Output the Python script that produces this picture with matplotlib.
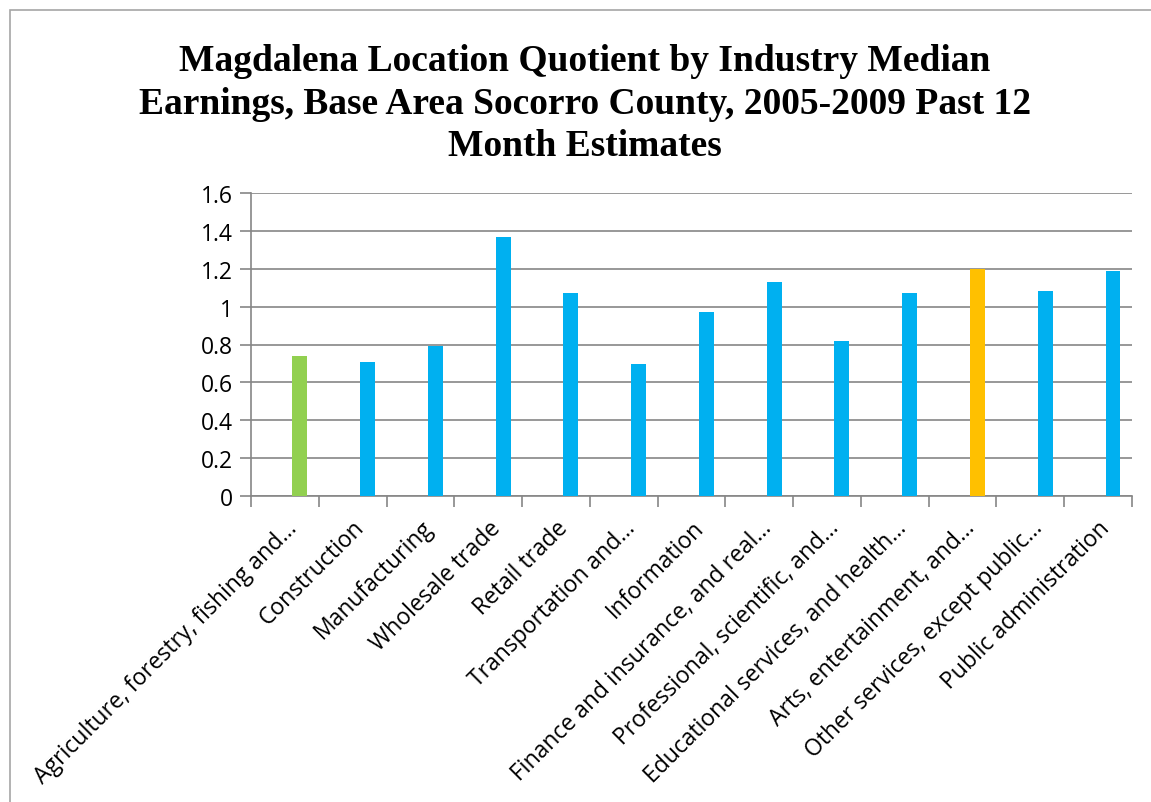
import matplotlib.pyplot as plt
from matplotlib.patches import Rectangle

# industries and location quotients
industries = [
    "Agriculture, forestry, fishing and...",
    "Construction",
    "Manufacturing",
    "Wholesale trade",
    "Retail trade",
    "Transportation and...",
    "Information",
    "Finance and insurance, and real...",
    "Professional, scientific, and...",
    "Educational services, and health...",
    "Arts, entertainment, and...",
    "Other services, except public...",
    "Public administration",
]
quotients = [0.74, 0.71, 0.79, 1.37, 1.07, 0.695, 0.97, 1.13, 0.82, 1.07, 1.20, 1.08, 1.19]
bar_colors = ["#92D050"] + ["#00B0F0"] * 9 + ["#FFC000"] + ["#00B0F0"] * 2
yticks = [0, 0.2, 0.4, 0.6, 0.8, 1.0, 1.2, 1.4, 1.6]
ytick_labels = ["0", "0.2", "0.4", "0.6", "0.8", "1", "1.2", "1.4", "1.6"]

title = ("Magdalena Location Quotient by Industry Median\n"
         "Earnings, Base Area Socorro County, 2005-2009 Past 12\n"
         "Month Estimates")

W, H = 1151, 803
fig = plt.figure(figsize=(W / 100, H / 100), dpi=100)
ax = fig.add_axes([251 / W, 1 - 497 / H, (1132 - 251) / W, (497 - 194) / H])

# chart frame (only top/left visible in the original)
fig.patches.append(Rectangle((10 / W, -0.1), 1.2, 1 - 11 / H + 0.1,
                             transform=fig.transFigure, fill=False,
                             edgecolor="#A6A6A6", lw=1.2))

width = 0.22
x = range(len(quotients))
ax.bar([i + width for i in x], quotients, width=width, color=bar_colors, zorder=3)

ax.set_xlim(-0.5, len(quotients) - 0.5)
ax.set_ylim(0, 1.6)
ax.set_yticks(yticks)
ax.set_yticklabels(ytick_labels, fontsize=16.5, family="Open Sans")
ax.yaxis.grid(True, color="#868686", lw=1.2, zorder=0)

ax.set_xticks([i + 0.0 for i in x])
ax.set_xticklabels(industries, fontsize=16.5, family="Open Sans")
ax.set_xticks([i - 0.5 for i in range(len(quotients) + 1)], minor=True)
ax.tick_params(axis="x", which="major", length=0, pad=14)
ax.tick_params(axis="x", which="minor", length=8, color="#868686", width=1.2)
ax.tick_params(axis="y", length=8, color="#868686", width=1.2, pad=5)
for lab in ax.get_xticklabels():
    lab.set_rotation(45)
    lab.set_rotation_mode("anchor")
    lab.set_ha("right")
    lab.set_va("top")

for s in ["top", "right"]:
    ax.spines[s].set_visible(False)
for s in ["left", "bottom"]:
    ax.spines[s].set_color("#868686")
    ax.spines[s].set_linewidth(1.2)

fig.text(585 / W, 1 - 44 / H, title, ha="center", va="top", fontsize=27,
         family="Liberation Serif", fontweight="bold", linespacing=1.28)

fig.savefig("out.png", dpi=100)
